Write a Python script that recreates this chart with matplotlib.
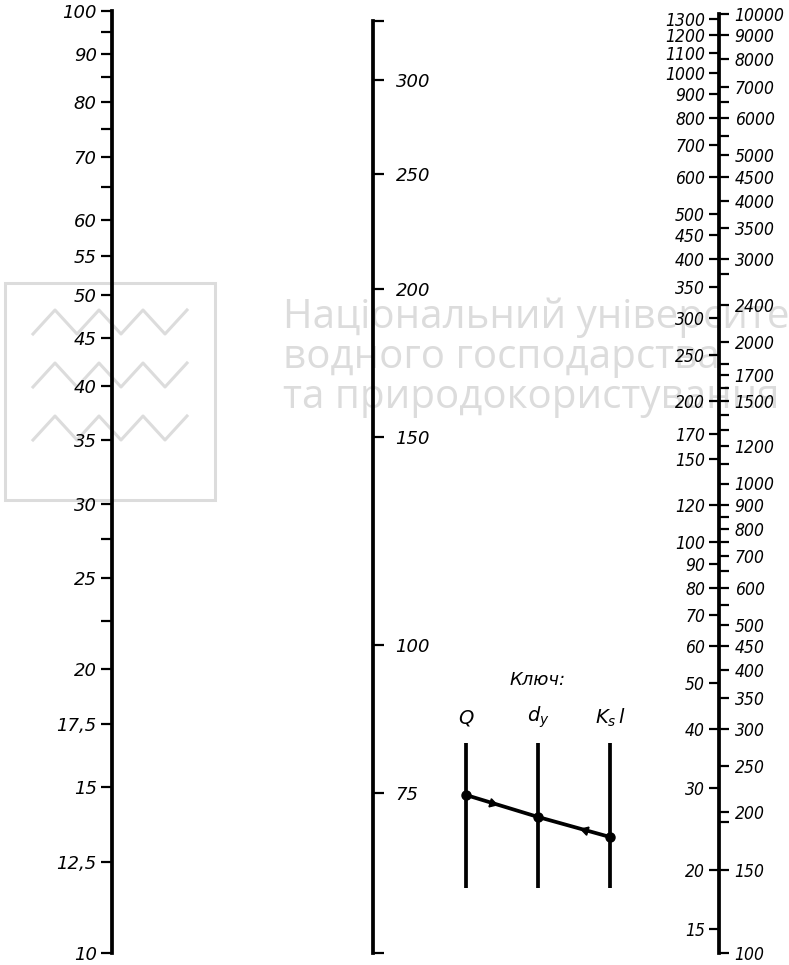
import matplotlib
matplotlib.use('Agg')
import numpy as np
import matplotlib.pyplot as plt
from matplotlib.lines import Line2D
from matplotlib.patches import Rectangle
from matplotlib.ticker import NullFormatter

W, H, DPI = 789, 965, 100

# ---------------- data ----------------
q_labeled = [100, 90, 80, 70, 60, 55, 50, 45, 40, 35, 30, 25, 20, 17.5, 15, 12.5, 10]
q_minor = [95, 85, 75, 65, 27.5, 22.5]
q_range = (10, 100)

d_labeled = [300, 250, 200, 150, 100, 75]
d_range = (55.0, 336.6)

ksl_left_labeled = [1300, 1200, 1100, 1000, 900, 800, 700, 600, 500, 450, 400, 350,
                    300, 250, 200, 170, 150, 120, 100, 90, 80, 70, 60, 50, 40, 30, 20, 15]
ksl_right_labeled = [10000, 9000, 8000, 7000, 6000, 5000, 4500, 4000, 3500, 3000, 2400,
                     2000, 1700, 1500, 1200, 1000, 900, 800, 700, 600, 500, 450, 400,
                     350, 300, 250, 200, 150, 100]
ksl_right_minor = [6500, 5500, 2800, 1800, 1600, 1400, 1300, 1100, 850, 750, 650, 550, 190]
right_range = (100, 10000)
left_ratio = 7.5
left_range = (right_range[0] / left_ratio, right_range[1] / left_ratio)

key_title = 'Ключ:'
key_names = ['$Q$', '$d_y$', '$K_s\\,l$']
key_x = [0, 1, 2]
key_line_y = [0.4375, 0.346, 0.2625]
key_span = (0.05, 0.654)
key_arrow_x = [0.36, 1.65]
key_arrow_dir = [1, -1]

wm_lines = ['Національний університет', 'водного господарства', 'та природокористування']

# ---------------- figure ----------------
plt.rcParams['font.family'] = ['DejaVu Sans']
fig = plt.figure(figsize=(W / DPI, H / DPI), dpi=DPI)
fig.patch.set_facecolor('white')

SPINE_W = 2.7
TICK_W = 1.6


def fmt(v):
    if float(v).is_integer():
        return str(int(v))
    return str(v).replace('.', ',')


def column(xc, ytop, ybot):
    ax = fig.add_axes([xc / W, 1 - ybot / H, 0.4 / W, (ybot - ytop) / H])
    ax.patch.set_alpha(0)
    ax.set_xticks([])
    for s in ax.spines.values():
        s.set_visible(False)
    ax.set_yscale('log')
    return ax


def style_labels(ax, size, stretch='normal'):
    for t in ax.get_yticklabels():
        t.set_fontstyle('italic')
        t.set_fontsize(size)
        t.set_fontstretch(stretch)


# ---- watermark (behind everything) ----
wm_color = '#dcdcdc'
fig.add_artist(Rectangle((5 / W, 1 - 500 / H), 210 / W, 217 / H, transform=fig.transFigure,
                         fill=False, edgecolor=wm_color, linewidth=2.2, zorder=-5))
for row_top in [310, 363, 416]:
    xs = [33, 55, 77, 99, 121, 143, 165, 187]
    ys = [row_top + 24 if i % 2 == 0 else row_top for i in range(len(xs))]
    fig.add_artist(Line2D([x / W for x in xs], [1 - y / H for y in ys], transform=fig.transFigure,
                          color=wm_color, linewidth=2.2, zorder=-5))
for i, line in enumerate(wm_lines):
    fig.text(283 / W, 1 - (318 + 40 * i) / H, line, fontsize=29, family='Open Sans',
             color=wm_color, va='center', ha='left', zorder=-5, fontstyle='normal')

# ---- Q scale (left) ----
axQ = column(112, 11, 953)
axQ.set_ylim(*q_range)
axQ.spines['left'].set_visible(True)
axQ.spines['left'].set_linewidth(SPINE_W)
axQ.set_yticks(q_labeled, [fmt(v) for v in q_labeled])
axQ.set_yticks(q_minor, minor=True)
axQ.yaxis.set_minor_formatter(NullFormatter())
axQ.tick_params(axis='y', which='both', direction='out', length=8, width=TICK_W, pad=3)
style_labels(axQ, 13)

# ---- d scale (middle) ----
axD = column(373, 21, 953)
axD.set_ylim(*d_range)
axD.yaxis.set_ticks_position('right')
axD.yaxis.set_label_position('right')
axD.spines['right'].set_visible(True)
axD.spines['right'].set_linewidth(SPINE_W)
axD.set_yticks(d_labeled, [fmt(v) for v in d_labeled])
axD.set_yticks(list(d_range), minor=True)
axD.yaxis.set_minor_formatter(NullFormatter())
axD.tick_params(axis='y', which='both', direction='out', length=8, width=TICK_W, pad=8)
style_labels(axD, 13)

# ---- K_s l scale (right, two-sided) ----
axR = column(719, 14, 953)
axR.set_ylim(*right_range)
axR.yaxis.set_ticks_position('right')
axR.spines['right'].set_visible(True)
axR.spines['right'].set_linewidth(SPINE_W)
axR.set_yticks(ksl_right_labeled, [fmt(v) for v in ksl_right_labeled])
axR.set_yticks(ksl_right_minor, minor=True)
axR.yaxis.set_minor_formatter(NullFormatter())
axR.tick_params(axis='y', which='both', direction='out', length=7, width=TICK_W, pad=4)
style_labels(axR, 12.5, 'condensed')

axL = column(719, 14, 953)
axL.set_ylim(*left_range)
axL.set_yticks(ksl_left_labeled, [fmt(v) for v in ksl_left_labeled])
axL.yaxis.set_minor_locator(matplotlib.ticker.NullLocator())
axL.tick_params(axis='y', which='both', direction='out', length=7, width=TICK_W, pad=3)
style_labels(axL, 12.5, 'condensed')

# ---- key ----
axK = fig.add_axes([430 / W, 1 - 900 / H, 216 / W, 240 / H])
axK.set_xlim(-0.5, 2.5)
axK.set_ylim(0, 1)
axK.axis('off')
axK.patch.set_alpha(0)
for x, name in zip(key_x, key_names):
    axK.plot([x, x], key_span, color='black', linewidth=2.7, solid_capstyle='butt')
    axK.text(x, 0.76, name, ha='center', va='center', fontsize=14)
axK.plot(key_x, key_line_y, color='black', linewidth=2.7, marker='o', markersize=6.5)
axK.text(1, 0.917, key_title, ha='center', va='center', fontsize=13, fontstyle='italic')
ang = np.degrees(np.arctan2((key_line_y[-1] - key_line_y[0]) * 240, (key_x[-1] - key_x[0]) * 72))
for ax_x, d in zip(key_arrow_x, key_arrow_dir):
    ay = np.interp(ax_x, key_x, key_line_y)
    rot = ang - 90 if d > 0 else ang + 90
    axK.plot([ax_x], [ay], marker=(3, 0, rot), color='black', markersize=7)

fig.savefig('out.png', dpi=DPI)
